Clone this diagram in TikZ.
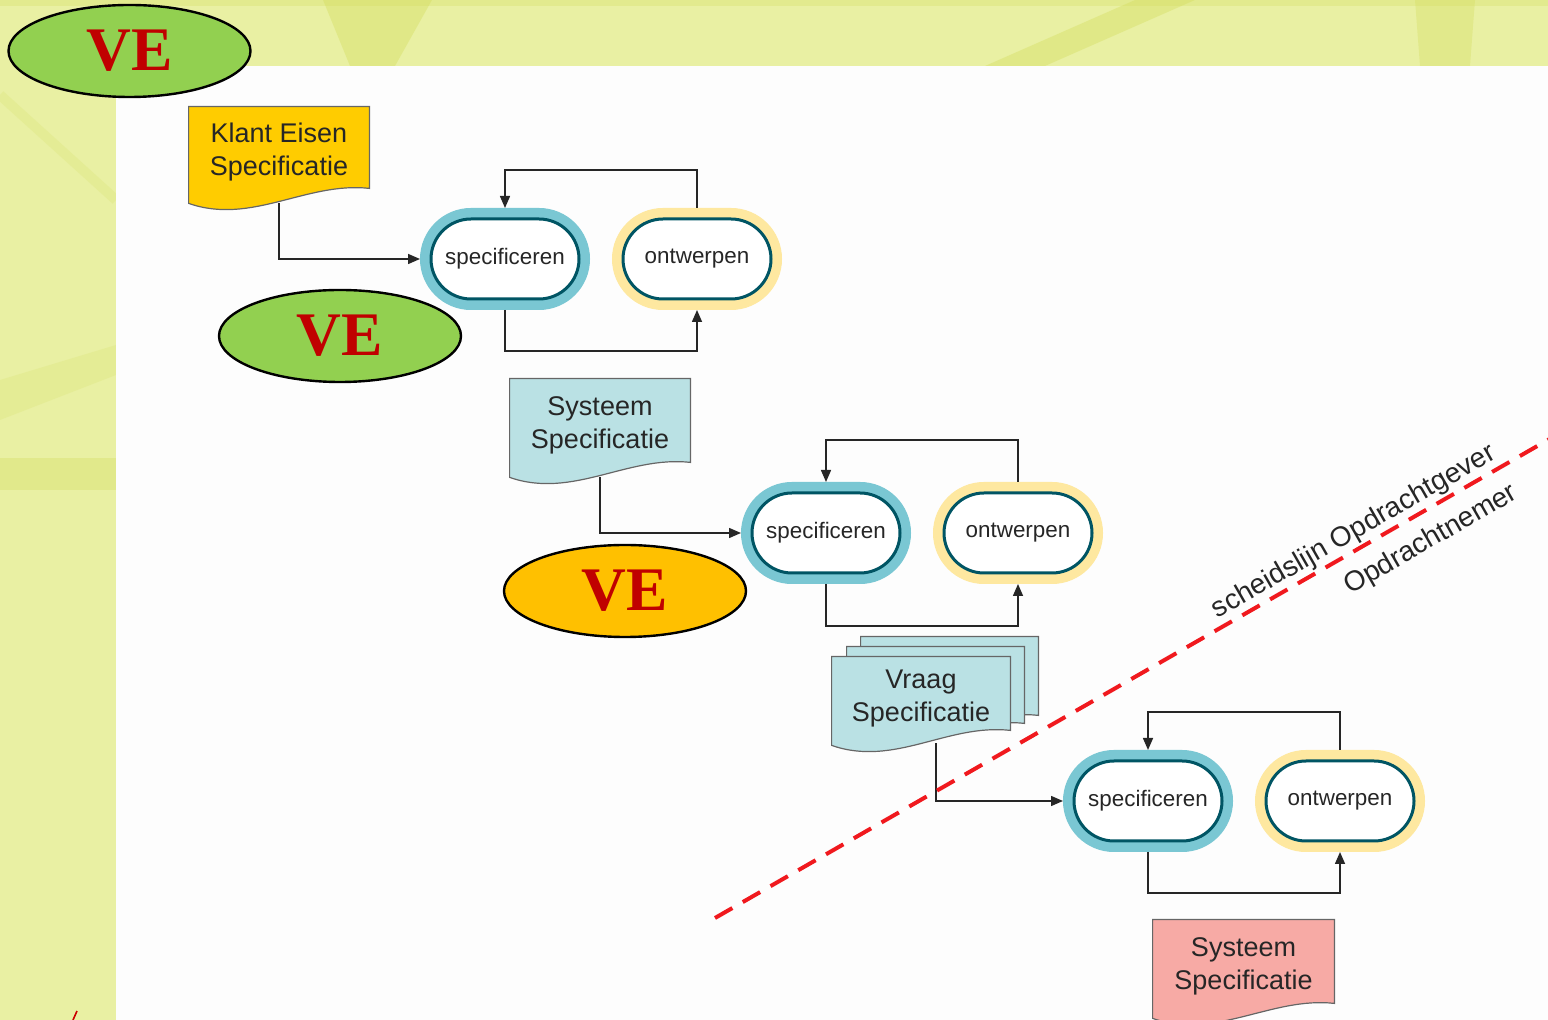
\documentclass[tikz,border=0pt]{standalone}
\usepackage{fontspec}
\setmainfont{Liberation Sans}
\newfontfamily\vefont{Liberation Serif}
\usetikzlibrary{shapes.geometric,shapes.misc,arrows.meta,calc}
\pgfdeclarelayer{bglayer}
\pgfdeclarelayer{doclayer}
\pgfsetlayers{bglayer,doclayer,main}
\definecolor{bgyel}{RGB}{233,240,163}
\definecolor{streak}{RGB}{212,222,95}
\definecolor{vegreen}{RGB}{146,208,80}
\definecolor{veorange}{RGB}{255,192,0}
\definecolor{vered}{RGB}{192,0,0}
\definecolor{klantcol}{RGB}{255,204,0}
\definecolor{sysblue}{RGB}{186,225,228}
\definecolor{syspink}{RGB}{247,170,165}
\definecolor{ringblue}{RGB}{122,199,211}
\definecolor{ringyellow}{RGB}{254,232,160}
\definecolor{tealb}{RGB}{0,85,100}
\definecolor{dashred}{RGB}{240,25,30}
\definecolor{pagewhite}{RGB}{253,253,253}
\newcommand{\docshape}[2]{%
  \path[#1] (#2.north west) -- (#2.north east) -- ($(#2.south east)+(0,-15)$)
    .. controls ($(#2.south east)+(-63,-22)$) and ($(#2.south west)+(63,22)$) .. (#2.south west) -- cycle;}
\begin{document}
\begin{tikzpicture}[x=0.5pt,y=-0.5pt,
  docbox/.style={rectangle, inner sep=0pt, align=center, text=black!85,
    text depth=5.5pt, font=\fontsize{13.5}{16.5}\selectfont},
  docline/.style={draw=black!60, line width=0.6pt},
  procn/.style={rounded rectangle, minimum width=74pt, minimum height=40pt,
    inner sep=0pt, outer sep=5.5pt, fill=white, draw=tealb, line width=1.5pt,
    text=black!85, font=\fontsize{11.2}{13}\selectfont},
  specn/.style={procn, preaction={draw=ringblue, line width=11pt}},
  ontwn/.style={procn, preaction={draw=ringyellow, line width=11pt}},
  conn/.style={draw=black!85, line width=0.75pt},
  arr/.style={-{Triangle[length=6pt,width=5pt]}},
  ve/.style={ellipse, draw=black, line width=1.2pt, minimum width=121pt,
    minimum height=46pt, inner sep=0pt, text=vered,
    font=\vefont\bfseries\fontsize{31}{31}\selectfont},
  sidelabel/.style={text=black!85, font=\fontsize{14}{16}\selectfont, inner sep=0pt, rotate=29.85}
]
\useasboundingbox (0,0) rectangle (1548,1020);
\begin{pgfonlayer}{bglayer}
  \fill[bgyel] (0,0) rectangle (1548,1020);
  \fill[streak, opacity=0.4] (323,0) -- (432,0) -- (395,66) -- (350,66) -- cycle;
  \fill[streak, opacity=0.4] (1135,0) -- (1195,0) -- (1045,66) -- (985,66) -- cycle;
  \fill[streak, opacity=0.35] (1415,0) -- (1475,0) -- (1470,66) -- (1420,66) -- cycle;
  \fill[streak, opacity=0.3] (0,0) rectangle (1548,6);
  \fill[streak, opacity=0.35] (0,458) rectangle (116,490);
  \fill[streak, opacity=0.2] (0,380) -- (116,345) -- (116,375) -- (0,420) -- cycle;
  \draw[streak, opacity=0.2, line width=5pt] (0,95) -- (116,200);
  \fill[pagewhite] (116,66) rectangle (1548,1020);
  \draw[red!80!black, line width=0.8pt] (73,1020) -- (77,1011);
\end{pgfonlayer}

% documents
\node[docbox, minimum width=90pt, minimum height=48pt] (klant) at (279,155) {Klant Eisen\\Specificatie};
\node[docbox, minimum width=90pt, minimum height=49pt] (sys1) at (600,428) {Systeem\\Specificatie};
\node[docbox, minimum width=88.5pt, minimum height=46.5pt] (vraagB) at (949.5,683.5) {};
\node[docbox, minimum width=88.5pt, minimum height=45.5pt] (vraagM) at (935.5,692.5) {};
\node[docbox, minimum width=89pt, minimum height=44pt] (vraag) at (921,701) {Vraag\\Specificatie};
\node[docbox, minimum width=90.5pt, minimum height=49pt] (sys2) at (1243.5,969) {Systeem\\Specificatie};
\begin{pgfonlayer}{doclayer}
  \docshape{docline, fill=klantcol}{klant}
  \docshape{docline, fill=sysblue}{sys1}
  \docshape{docline, fill=sysblue}{vraagB}
  \docshape{docline, fill=sysblue}{vraagM}
  \docshape{docline, fill=sysblue}{vraag}
  \docshape{docline, fill=syspink}{sys2}
\end{pgfonlayer}

% processes
\node[specn] (s1) at (505,259) {specificeren};
\node[ontwn] (o1) at (697,259) {ontwerpen};
\node[specn] (s2) at (826,533) {specificeren};
\node[ontwn] (o2) at (1018,533) {ontwerpen};
\node[specn] (s3) at (1148,801) {specificeren};
\node[ontwn] (o3) at (1340,801) {ontwerpen};

% connectors
\draw[conn, arr] (o1.north) -- ++(0,-38) -| (s1.north);
\draw[conn, arr] (s1.south) -- ++(0,41) -| (o1.south);
\draw[conn, arr] (klant.south) |- (s1.west);
\draw[conn, arr] (o2.north) -- ++(0,-42) -| (s2.north);
\draw[conn, arr] (s2.south) -- ++(0,42) -| (o2.south);
\draw[conn, arr] (sys1.south) |- (s2.west);
\draw[conn, arr] (o3.north) -- ++(0,-38) -| (s3.north);
\draw[conn, arr] (s3.south) -- ++(0,41) -| (o3.south);
\draw[conn, arr] ([xshift=7.5pt,yshift=1pt]vraag.south) |- (s3.west);

% dividing line
\coordinate (dl1) at (715,918);
\coordinate (dl2) at (1560,433);
\draw[dashred, line width=2pt, dash pattern=on 10pt off 6pt] (dl1) -- (dl2);
\node[sidelabel] (lblgever) at (1354,532) {scheidslijn Opdrachtgever};
\node[sidelabel] (lblnemer) at (1431,540) {Opdrachtnemer};

% VE ellipses
\node[ve, fill=vegreen] (ve1) at (129.5,51) {VE};
\node[ve, fill=vegreen] (ve2) at (340,336) {VE};
\node[ve, fill=veorange] (ve3) at (625,591) {VE};
\end{tikzpicture}
\end{document}
